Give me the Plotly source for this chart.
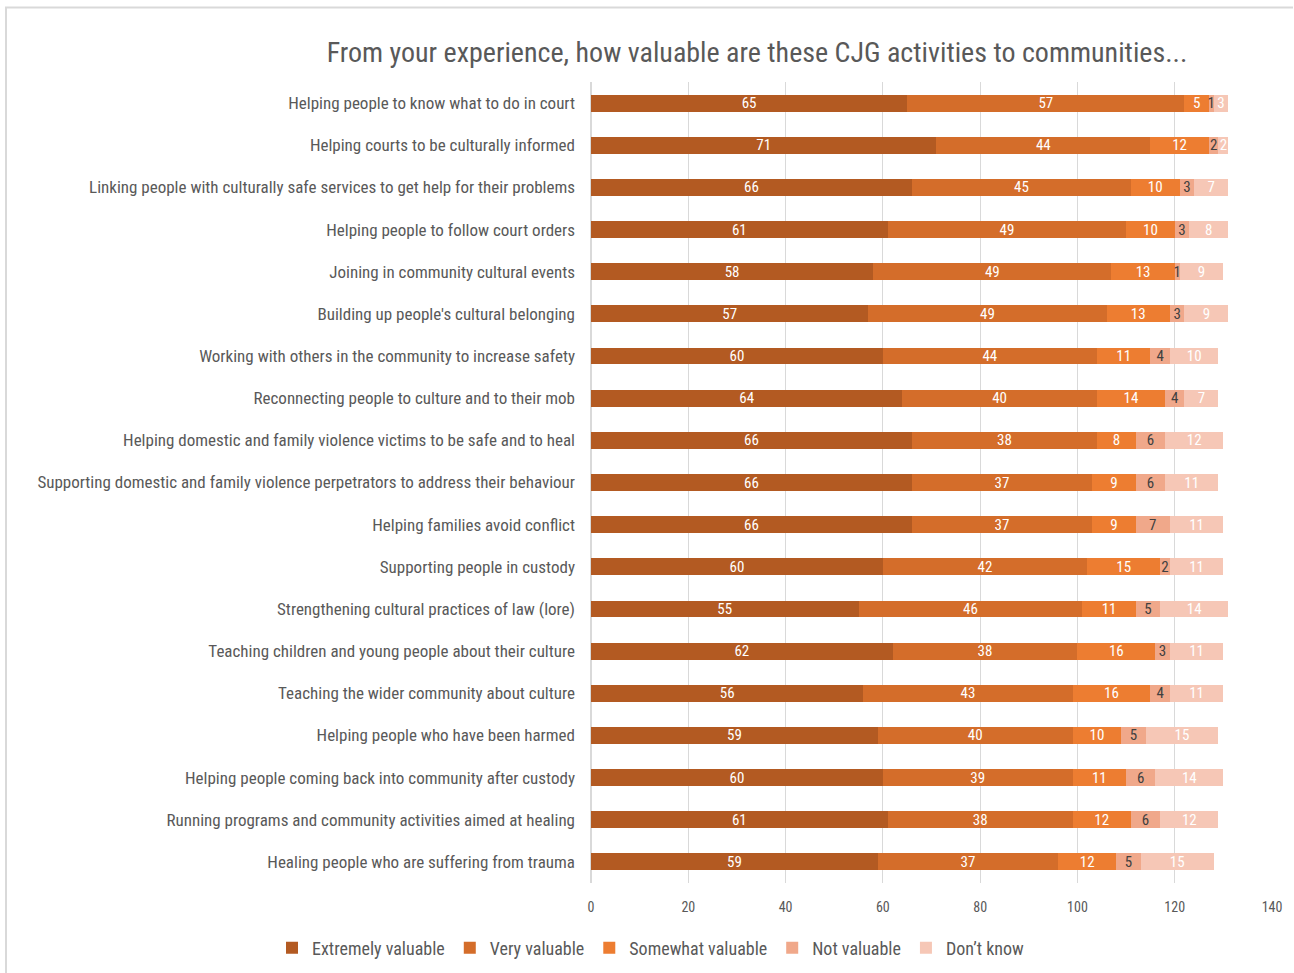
import plotly.graph_objects as go

activities = [
    "Helping people to know what to do in court",
    "Helping courts to be culturally informed",
    "Linking people with culturally safe services to get help for their problems",
    "Helping people to follow court orders",
    "Joining in community cultural events",
    "Building up people's cultural belonging",
    "Working with others in the community to increase safety",
    "Reconnecting people to culture and to their mob",
    "Helping domestic and family violence victims to be safe and to heal",
    "Supporting domestic and family violence perpetrators to address their behaviour",
    "Helping families avoid conflict",
    "Supporting people in custody",
    "Strengthening cultural practices of law (lore)",
    "Teaching children and young people about their culture",
    "Teaching the wider community about culture",
    "Helping people who have been harmed",
    "Helping people coming back into community after custody",
    "Running programs and community activities aimed at healing",
    "Healing people who are suffering from trauma",
]

extremely_valuable = [65, 71, 66, 61, 58, 57, 60, 64, 66, 66, 66, 60, 55, 62, 56, 59, 60, 61, 59]
very_valuable = [57, 44, 45, 49, 49, 49, 44, 40, 38, 37, 37, 42, 46, 38, 43, 40, 39, 38, 37]
somewhat_valuable = [5, 12, 10, 10, 13, 13, 11, 14, 8, 9, 9, 15, 11, 16, 16, 10, 11, 12, 12]
not_valuable = [1, 2, 3, 3, 1, 3, 4, 4, 6, 6, 7, 2, 5, 3, 4, 5, 6, 6, 5]
dont_know = [3, 2, 7, 8, 9, 9, 10, 7, 12, 11, 11, 11, 14, 11, 11, 15, 14, 12, 15]

x_ticks = [0, 20, 40, 60, 80, 100, 120, 140]

FONT = "Roboto Condensed, Liberation Sans Narrow, Arial Narrow, sans-serif"
GREY = "#595959"
BORDER = "#D9D9D9"

# Plot area in pixels: used to place the frame lines in paper units
W, H = 1294, 973
L, R, T, B = 591, 22, 82, 90
PW, PH = W - L - R, H - T - B


def px_x(px):
    return (px - L) / PW


def px_y(py):
    return 1 - (py - T) / PH


series = [
    ("Extremely valuable", extremely_valuable, "#B35A22", "#FFFFFF"),
    ("Very valuable", very_valuable, "#D46D2A", "#FFFFFF"),
    ("Somewhat valuable", somewhat_valuable, "#ED7D31", "#FFFFFF"),
    ("Not valuable", not_valuable, "#F0A88A", "#404040"),
    ("Don\u2019t know", dont_know, "#F6C7B6", "#FFFFFF"),
]

fig = go.Figure()
for name, values, colour, text_colour in series:
    fig.add_trace(go.Bar(
        name=name,
        y=activities,
        x=values,
        orientation="h",
        marker=dict(color=colour, line=dict(width=0)),
        text=[str(v) for v in values],
        textposition="inside",
        insidetextanchor="middle",
        constraintext="none",
        textangle=0,
        textfont=dict(family=FONT, size=15, color=text_colour),
        hoverinfo="x+name",
    ))

fig.update_layout(
    barmode="stack",
    bargap=0.6,
    width=W,
    height=H,
    paper_bgcolor="white",
    plot_bgcolor="white",
    margin=dict(l=L, r=R, t=T, b=B, autoexpand=False),
    font=dict(family=FONT, color=GREY),
    title=dict(
        text="From your experience, how valuable are these CJG activities to communities...",
        x=757 / W,
        xanchor="center",
        xref="container",
        y=1 - 52 / H,
        yanchor="middle",
        font=dict(family=FONT, size=28, color=GREY),
    ),
    xaxis=dict(
        range=[0, 140],
        tickvals=x_ticks,
        showgrid=True,
        gridcolor=BORDER,
        gridwidth=1,
        zeroline=True,
        zerolinecolor=BORDER,
        showline=False,
        ticks="",
        automargin=False,
        tickfont=dict(family=FONT, size=14, color=GREY),
        ticklabelstandoff=14,
    ),
    yaxis=dict(
        autorange="reversed",
        showgrid=False,
        ticks="",
        automargin=False,
        tickfont=dict(family=FONT, size=17, color=GREY),
        ticklabelstandoff=15,
    ),
    legend=dict(
        orientation="h",
        xref="paper",
        x=px_x(272),
        xanchor="left",
        yref="paper",
        y=px_y(948),
        yanchor="middle",
        font=dict(family=FONT, size=18, color=GREY),
        itemwidth=30,
        traceorder="normal",
        tracegroupgap=0,
    ),
    shapes=[
        dict(type="line", xref="paper", yref="paper",
             x0=px_x(5), x1=px_x(1293), y0=px_y(7.5), y1=px_y(7.5),
             line=dict(color=BORDER, width=2)),
        dict(type="line", xref="paper", yref="paper",
             x0=px_x(6), x1=px_x(6), y0=px_y(7), y1=px_y(973),
             line=dict(color=BORDER, width=2)),
    ],
)

fig.write_html("out.html")
